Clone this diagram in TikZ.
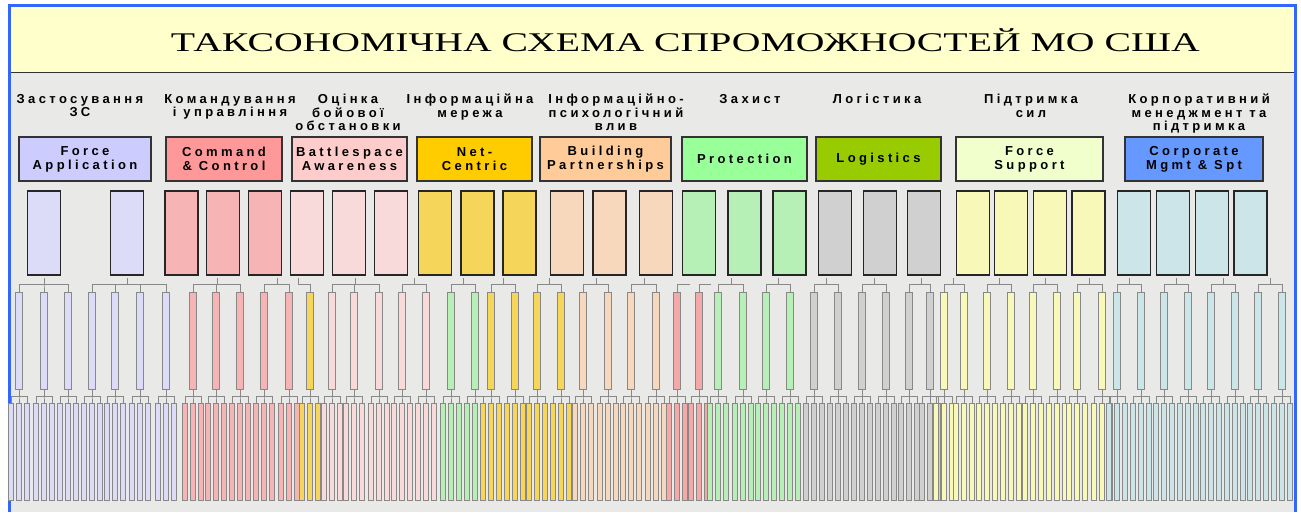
\documentclass[tikz,border=0pt]{standalone}
\usepackage{fontspec}
\usepackage{graphicx}
\setmainfont{Liberation Sans}
\newfontfamily\titlefont{Liberation Serif}
\newfontfamily\capfont[LetterSpace=26]{Liberation Sans}

\definecolor{frameblue}{RGB}{51,102,255}
\definecolor{banner}{RGB}{255,255,204}
\definecolor{paper}{RGB}{233,233,231}
\definecolor{twig}{RGB}{136,136,136}
\definecolor{fatop}{RGB}{204,204,255}  \definecolor{famid}{RGB}{220,220,248}
\definecolor{cctop}{RGB}{255,153,153}  \definecolor{ccmid}{RGB}{246,180,180}
\definecolor{batop}{RGB}{255,204,204}  \definecolor{bamid}{RGB}{248,218,218}
\definecolor{nctop}{RGB}{255,204,0}    \definecolor{ncmid}{RGB}{245,214,90}
\definecolor{bptop}{RGB}{255,204,153}  \definecolor{bpmid}{RGB}{248,216,188}
\definecolor{prtop}{RGB}{153,255,153}  \definecolor{prmid}{RGB}{182,240,182}
\definecolor{lgtop}{RGB}{153,204,0}    \definecolor{lgmid}{RGB}{208,208,208}
\definecolor{fstop}{RGB}{240,255,204}  \definecolor{fsmid}{RGB}{248,248,184}
\definecolor{cmtop}{RGB}{102,153,255}  \definecolor{cmmid}{RGB}{204,229,232}
\definecolor{rdmid}{RGB}{244,168,168}

\begin{document}
\begin{tikzpicture}[x=1pt, y=-1pt,
    cat/.style={font=\capfont\bfseries\fontsize{13}{13.5}\selectfont, align=center, anchor=north, inner sep=0pt},
    topbox/.style={draw=black!80, line width=1.3pt, minimum height=44pt, inner sep=0pt, align=center,
        font=\capfont\bfseries\fontsize{13}{14}\selectfont},
    midbox/.style={draw=black!85, line width=1.2pt, minimum width=33pt, minimum height=84pt, inner sep=0pt},
    bar/.style={draw=twig, line width=1pt, minimum width=7pt, minimum height=97pt, inner sep=0pt},
    leaf/.style={draw=twig, line width=0.9pt, minimum width=5pt, minimum height=97pt, inner sep=0pt},
    twigline/.style={draw=twig, line width=1pt}]
    \useasboundingbox (0,0) rectangle (1301,512);

        \fill[paper] (9,5) rectangle (1296,512);
        \fill[banner] (11,7) rectangle (1294,72.5);
        \draw[black!80, line width=1.3pt] (11,72.5) -- (1294,72.5);
        \draw[frameblue, line width=3pt] (9.5,512) -- (9.5,5.5) -- (1295.5,5.5) -- (1295.5,512);

        \node[anchor=base, inner sep=0pt] (title) at (685.5,51)
            {\resizebox{1029pt}{\height}{\titlefont\fontsize{27}{30}\selectfont ТАКСОНОМІЧНА СХЕМА СПРОМОЖНОСТЕЙ МО США}};

        \foreach \cx/\txt [count=\i] in {80/{Застосування\\ЗС}, 230/{Командування\\і управління},
            348/{Оцінка\\бойової\\обстановки}, 470/{Інформаційна\\мережа},
            616/{Інформаційно-\\психологічний\\влив}, 750/{Захист}, 877/{Логістика},
            1031/{Підтримка\\сил}, 1199/{Корпоративний\\менеджмент та\\підтримка}}
            \node[cat] (cat\i) at (\cx,94) {\txt};

        \foreach \cx/\w/\col/\txt [count=\i] in {85/132/fa/{Force\\Application}, 224/116/cc/{Command\\\& Control},
            349.5/115/ba/{Battlespace\\Awareness}, 474.5/115/nc/{Net-\\Centric},
            605.5/131/bp/{Building\\Partnerships}, 744.5/125/pr/{Protection}, 878.5/125/lg/{Logistics},
            1029.5/147/fs/{Force\\Support}, 1194/138/cm/{Corporate\\Mgmt \& Spt}}
            \node[topbox, minimum width=\w pt, fill=\col top] (top\i) at (\cx,159) {\txt};

        \foreach \cx/\col [count=\i] in {44/fa, 127/fa, 181.5/cc, 223/cc, 265/cc, 307/ba, 349/ba, 391/ba,
            435/nc, 477.5/nc, 519.5/nc, 567/bp, 609.5/bp, 656/bp, 699/pr, 744.5/pr, 789.5/pr,
            835/lg, 880/lg, 924/lg, 973/fs, 1011/fs, 1050/fs, 1088.5/fs, 1134/cm, 1173/cm, 1212/cm, 1250.5/cm}
            \node[midbox, fill=\col mid] (mid\i) at (\cx,233) {};

        % hanging stems of the bar groups
        \foreach \sx/\sy [count=\g] in {44/278, 127/278, 217/278, 277/278, 298/278, 355/278, 414/278,
            463/278, 503/278, 549/278, 596/278, 644/278, 690/284, 711/284, 731/278, 778/278, 826/278,
            874/278, 921/278, 953/278, 999/278, 1045/278, 1089/278, 1129/278, 1176/278, 1223/278, 1270/278}
            \coordinate (stem\g) at (\sx,\sy);

        \foreach \bx/\col/\g [count=\n] in {19/fa/1, 44/fa/1, 68/fa/1, 92/fa/2, 115/fa/2, 140/fa/2, 166/fa/2,
            193/cc/3, 216/cc/3, 240/cc/3, 264/cc/4, 289/cc/4, 310/nc/5, 332/ba/6, 354/ba/6, 379/ba/6,
            402/ba/7, 426/ba/7, 451/pr/8, 475/pr/8, 491/nc/9, 515/nc/9, 537/nc/10, 561/nc/10,
            583/bp/11, 608/bp/11, 631/bp/12, 656/bp/12, 677/rd/13, 699/rd/14, 718/pr/15, 743/pr/15,
            766/pr/16, 790/pr/16, 814/lg/17, 838/lg/17, 862/lg/18, 886/lg/18, 909/lg/19, 930/lg/19,
            944/fs/20, 964/fs/20, 987/fs/21, 1011/fs/21, 1033/fs/22, 1057/fs/22, 1077/fs/23, 1102/fs/23,
            1117/cm/24, 1141/cm/24, 1164/cm/25, 1188/cm/25, 1211/cm/26, 1235/cm/26, 1258/cm/27, 1282/cm/27}
        {
            \node[bar, fill=\col mid] (bar\n) at (\bx,340.5) {};
            \draw[twigline] (stem\g) -- (stem\g |- 0,284) -| (bar\n.north);
            \foreach \k in {1,2,3} {
                \node[leaf, fill=\col mid] (leaf\n-\k) at (\bx+8*\k-16,451.5) {};
                \draw[twigline] (bar\n.south) -- (bar\n.south |- 0,396) -| (leaf\n-\k.north);
            }
        }

    \end{tikzpicture}
\end{document}
